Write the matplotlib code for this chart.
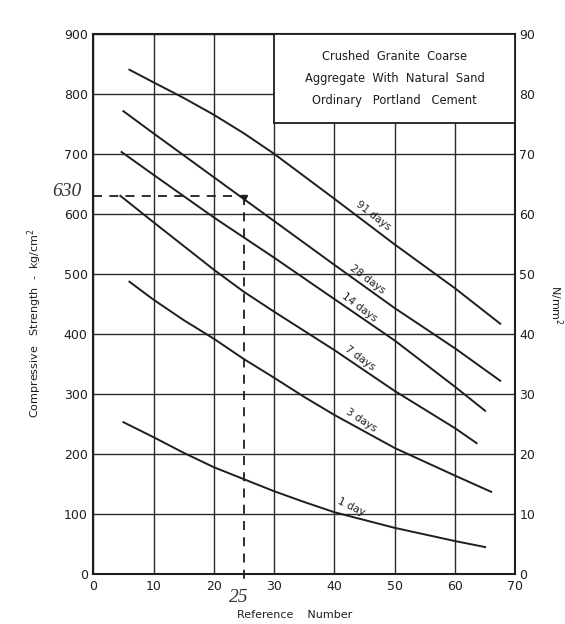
import matplotlib.pyplot as plt
from matplotlib.patches import Rectangle

# reference number vs compressive strength (kg/cm2)
ref_91 = [6, 10, 15, 20, 25, 30, 40, 50, 60, 67.5]
str_91 = [840, 819, 793, 765, 734, 700, 625, 549, 476, 417]

ref_28 = [5, 10, 20, 30, 40, 50, 60, 67.5]
str_28 = [771, 734, 661, 588, 515, 443, 376, 322]

ref_14 = [4.7, 10, 20, 30, 40, 50, 60, 65]
str_14 = [703, 665, 594, 527, 458, 389, 312, 272]

ref_7 = [4.5, 10, 20, 25, 30, 40, 50, 60, 63.6]
str_7 = [630, 586, 507, 470, 437, 373, 305, 243, 218]

ref_3 = [6, 10, 15, 20, 25, 30, 35, 40, 50, 60, 66]
str_3 = [487, 457, 423, 392, 358, 327, 295, 265, 210, 164, 137]

ref_1 = [5, 10, 15, 20, 30, 35, 40, 50, 60, 65]
str_1 = [253, 228, 202, 178, 138, 120, 103, 77, 55, 45]

curves = [(ref_91, str_91), (ref_28, str_28), (ref_14, str_14),
          (ref_7, str_7), (ref_3, str_3), (ref_1, str_1)]

curve_labels = ['91 days', '28 days', '14 days', '7 days', '3 days', '1 day']
label_x = [46.5, 45.5, 44.2, 44.2, 44.5, 42.8]
label_y = [597, 490, 444, 360, 257, 112]
label_rot = [-38, -37, -37, -36, -33, -26]

# worked example drawn on the chart
example_ref = 25
example_str = 630

box_text = 'Crushed  Granite  Coarse\nAggregate  With  Natural  Sand\nOrdinary   Portland   Cement'

ink = '#1e1e1e'

fig = plt.figure(figsize=(5.65, 6.24), dpi=100)
ax = fig.add_axes([0.165, 0.080, 0.747, 0.866])

ax.set_xlim(0, 70)
ax.set_ylim(0, 900)
ax.set_xticks(range(0, 71, 10))
ax.set_yticks(range(0, 901, 100))
ax.grid(True, color='#2a2a2a', lw=1.0)
for s in ax.spines.values():
    s.set_linewidth(1.5)
    s.set_color(ink)
ax.tick_params(length=0, labelsize=9, pad=4, colors=ink)

for (xs, ys) in curves:
    ax.plot(xs, ys, color=ink, lw=1.4, zorder=2)

for txt, lx, ly, rot in zip(curve_labels, label_x, label_y, label_rot):
    ax.text(lx, ly, txt, rotation=rot, fontsize=7.5, ha='center', va='center',
            color=ink, rotation_mode='anchor')

# dashed read-off lines
ax.plot([0, example_ref], [example_str, example_str], color=ink, lw=1.3,
        ls=(0, (5, 4)), zorder=2)
ax.plot([example_ref, example_ref], [example_str, -15], color=ink, lw=1.3,
        ls=(0, (5, 4)), zorder=2, clip_on=False)
ax.plot([example_ref], [example_str - 4], marker='v', ms=4, color=ink, zorder=3)

# legend box in the top-right corner
ax.add_patch(Rectangle((30, 752), 40, 148, facecolor='white', edgecolor=ink,
                       lw=1.3, zorder=3))
ax.text(50, 826, box_text, ha='center', va='center', fontsize=8.3,
        linespacing=1.9, color=ink, zorder=4)

ax2 = ax.twinx()
ax2.set_ylim(0, 90)
ax2.set_yticks(range(0, 91, 10))
ax2.tick_params(length=0, labelsize=9, pad=3, colors=ink)
for s in ax2.spines.values():
    s.set_visible(False)

fig.text(35 / 565, 1 - 323 / 624, 'Compressive   Strength  -  kg/cm$^2$',
         rotation=90, ha='center', va='center', fontsize=8, color=ink)
fig.text(556 / 565, 1 - 305 / 624, 'N/mm$^2$', rotation=270,
         ha='center', va='center', fontsize=8, color=ink)
fig.text(295 / 565, 1 - 615 / 624, 'Reference    Number',
         ha='center', va='center', fontsize=8, color=ink)

# handwritten annotations
fig.text(67 / 565, 1 - 191 / 624, '630', ha='center', va='center',
         fontsize=14, family='Liberation Serif', style='italic', color='#333')
fig.text(239 / 565, 1 - 598 / 624, '25', ha='center', va='center',
         fontsize=14, family='Liberation Serif', style='italic', color='#333')

plt.savefig('out.png', dpi=100)
